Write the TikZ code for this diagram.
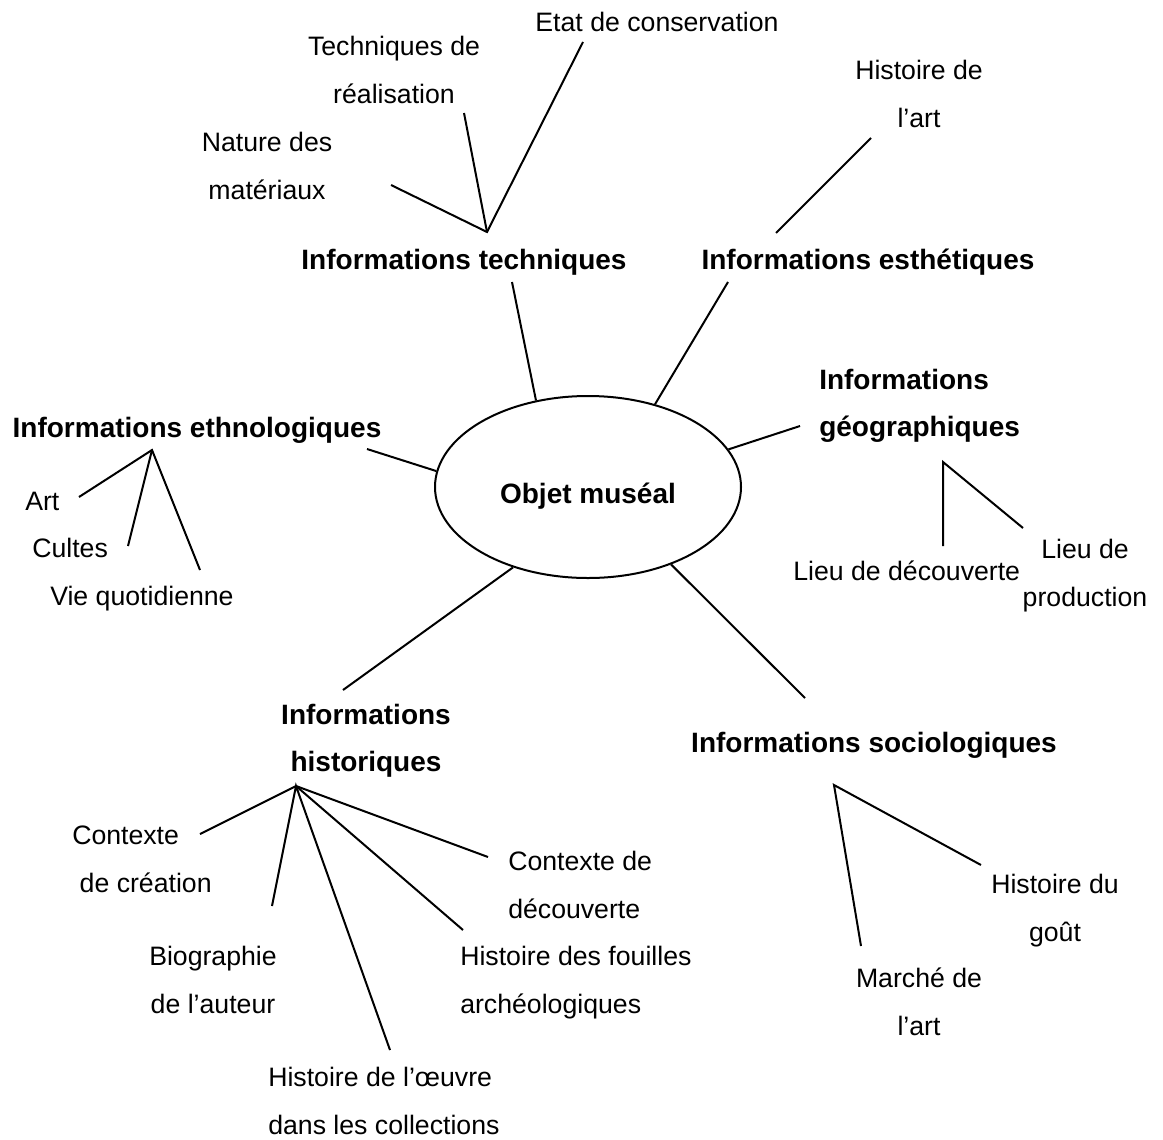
\documentclass[tikz,border=0pt]{standalone}
\usepackage{fontspec}
\setmainfont{Liberation Sans}
\usetikzlibrary{shapes.geometric}

\tikzset{
  leaf/.style={inner sep=0pt, font=\fontsize{20}{36}\selectfont},
  branch/.style={inner sep=0pt, font=\fontsize{21}{35}\selectfont\bfseries},
  twig/.style={line width=1.5pt}
}

\begin{document}
\begin{tikzpicture}[x=0.75pt, y=-0.75pt]
  %%%%% START %%%%%
  \useasboundingbox (0,0) rectangle (1163,1139);

  \node[draw, ellipse, twig, minimum width=229.5pt, minimum height=136.5pt, inner sep=0pt,
        font=\fontsize{21}{25}\selectfont\bfseries, text height=24pt, text depth=0pt] (objet) at (588,487) {Objet muséal};

  % categories (base = last line)
  \node[branch, anchor=base] (tech) at (464,269) {Informations techniques};
  \node[branch, anchor=base] (esth) at (868,269) {Informations esthétiques};
  \node[branch, anchor=base west, align=left] (geo) at (819,436) {Informations\\géographiques};
  \node[branch, anchor=base] (ethno) at (197,437) {Informations ethnologiques};
  \node[branch, anchor=base, align=center] (hist) at (366,771) {Informations\\historiques};
  \node[branch, anchor=base] (socio) at (874,752) {Informations sociologiques};

  \coordinate (tech-in) at (512,282);
  \coordinate (esth-in) at (728,282);
  \coordinate (geo-in) at (800,426);
  \coordinate (ethno-in) at (367,449);
  \coordinate (hist-in) at (343,690);
  \coordinate (socio-in) at (805,698);

  \draw[twig] (tech-in) -- (objet.121);
  \draw[twig] (esth-in) -- (objet.51);
  \draw[twig] (geo-in) -- (objet.15.5);
  \draw[twig] (ethno-in) -- (objet.174.6);
  \draw[twig] (hist-in) -- (objet.227.5);
  \draw[twig] (socio-in) -- (objet.317);

  % techniques
  \node[leaf, anchor=base] (etat) at (657,31) {Etat de conservation};
  \node[leaf, anchor=base, align=center] (real) at (394,103) {Techniques de\\réalisation};
  \node[leaf, anchor=base, align=center] (nature) at (267,199) {Nature des\\matériaux};
  \coordinate (tech-top) at (487,232);
  \coordinate (etat-end) at (583,42);
  \coordinate (real-end) at (464,113);
  \coordinate (nature-end) at (391,185);
  \draw[twig] (nature-end) -- (tech-top) -- (etat-end);
  \draw[twig] (tech-top) -- (real-end);

  % esthetiques
  \node[leaf, anchor=base, align=center] (hart) at (919,127) {Histoire de\\l’art};
  \coordinate (esth-top) at (776,233);
  \coordinate (hart-end) at (871,138);
  \draw[twig] (esth-top) -- (hart-end);

  % geographiques
  \node[leaf, anchor=base west] (decouv) at (793,580) {Lieu de découverte};
  \node[leaf, anchor=base, align=center] (prod) at (1085,606) {Lieu de\\production};
  \coordinate (geo-top) at (943,462);
  \coordinate (decouv-end) at (943,546);
  \coordinate (prod-end) at (1023,528);
  \draw[twig] (decouv-end) -- (geo-top) -- (prod-end);

  % ethnologiques
  \node[leaf, anchor=base west] (art) at (25,510) {Art};
  \node[leaf, anchor=base west] (cultes) at (32,557) {Cultes};
  \node[leaf, anchor=base west] (vie) at (50,605) {Vie quotidienne};
  \coordinate (ethno-top) at (152,450);
  \coordinate (art-end) at (79,497);
  \coordinate (cultes-end) at (128,546);
  \coordinate (vie-end) at (200,570);
  \draw[twig] (art-end) -- (ethno-top) -- (vie-end);
  \draw[twig] (ethno-top) -- (cultes-end);

  % historiques
  \node[leaf, anchor=base west, align=left] (creation) at (72,892) {Contexte\\\hspace*{.28em}de création};
  \node[leaf, anchor=base, align=center] (bio) at (213,1013) {Biographie\\de l’auteur};
  \node[leaf, anchor=base west, align=left] (oeuvre) at (268,1134) {Histoire de l’œuvre\\dans les collections};
  \node[leaf, anchor=base west, align=left] (fouilles) at (460,1013) {Histoire des fouilles\\archéologiques};
  \node[leaf, anchor=base west, align=left] (ctxdec) at (508,918) {Contexte de\\découverte};
  \coordinate (hist-top) at (296,786);
  \coordinate (creation-end) at (200,834);
  \coordinate (bio-end) at (272,906);
  \coordinate (oeuvre-end) at (390,1050);
  \coordinate (fouilles-end) at (463,930);
  \coordinate (ctxdec-end) at (488,857);
  \draw[twig] (creation-end) -- (hist-top) -- (ctxdec-end);
  \draw[twig] (bio-end) -- (hist-top) -- (oeuvre-end);
  \draw[twig] (hist-top) -- (fouilles-end);

  % sociologiques
  \node[leaf, anchor=base, align=center] (marche) at (919,1035) {Marché de\\l’art};
  \node[leaf, anchor=base, align=center] (gout) at (1055,941) {Histoire du\\goût};
  \coordinate (socio-top) at (834,785);
  \coordinate (marche-end) at (861,946);
  \coordinate (gout-end) at (981,865);
  \draw[twig] (marche-end) -- (socio-top) -- (gout-end);

  %%%%% END %%%%%
\end{tikzpicture}
\end{document}
